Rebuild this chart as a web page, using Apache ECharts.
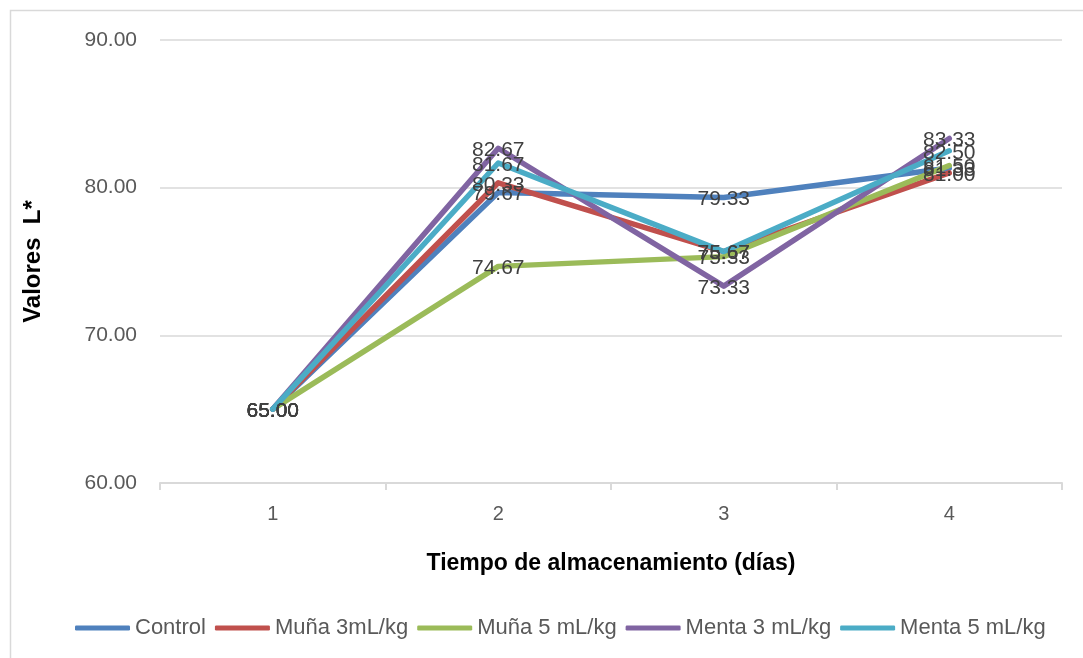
<!DOCTYPE html>
<html>
<head>
<meta charset="utf-8">
<script src="https://cdn.jsdelivr.net/npm/echarts@6/dist/echarts.min.js"></script>
<style>
html,body{margin:0;padding:0;background:#fff;}
#chart{width:1083px;height:658px;}
</style>
</head>
<body>
<div id="chart"></div>
<script>
const days = ['1', '2', '3', '4'];
const seriesNames = ['Control', 'Muña 3mL/kg', 'Muña 5 mL/kg', 'Menta 3 mL/kg', 'Menta 5 mL/kg'];
const control = [65.00, 79.67, 79.33, 81.33];
const muna3 = [65.00, 80.33, 75.67, 81.00];
const muna5 = [65.00, 74.67, 75.33, 81.50];
const menta3 = [65.00, 82.67, 73.33, 83.33];
const menta5 = [65.00, 81.67, 75.67, 82.50];
const colors = ['#4F81BD', '#C0504D', '#9BBB59', '#8064A2', '#4BACC6'];
const yTicks = { min: 60, max: 90, interval: 10 };

const allData = [control, muna3, muna5, menta3, menta5];
const font2 = '"Liberation Sans", sans-serif';

const chart = echarts.init(document.getElementById('chart'));
chart.setOption({
  animation: false,
  backgroundColor: '#fff',
  graphic: [{
    type: 'rect',
    shape: { x: 10.5, y: 10.5, width: 1100, height: 700 },
    style: { fill: 'none', stroke: '#d9d9d9', lineWidth: 1.5 },
    silent: true, z: -1
  }],
  grid: { left: 160, right: 21, top: 40, bottom: 175, containLabel: false },
  legend: {
    top: 612,
    left: 70,
    icon: 'roundRect',
    itemWidth: 55,
    itemHeight: 5,
    itemGap: 9,
    textStyle: { fontFamily: font2, fontSize: 22, color: '#595959' },
    data: seriesNames
  },
  xAxis: {
    type: 'category',
    data: days,
    boundaryGap: true,
    name: 'Tiempo de almacenamiento (días)',
    nameLocation: 'middle',
    nameGap: 69,
    nameTextStyle: { fontFamily: font2, fontWeight: 'bold', fontSize: 23, color: '#000' },
    axisLine: { lineStyle: { color: '#d9d9d9', width: 2 } },
    axisTick: { show: true, length: 7, lineStyle: { color: '#d9d9d9', width: 2 } },
    axisLabel: { fontFamily: font2, fontSize: 20, color: '#595959', margin: 21 }
  },
  yAxis: {
    type: 'value',
    min: yTicks.min,
    max: yTicks.max,
    interval: yTicks.interval,
    name: 'Valores  L*',
    nameLocation: 'middle',
    nameGap: 115,
    nameRotate: 90,
    nameTextStyle: { fontFamily: font2, fontWeight: 'bold', fontSize: 24, color: '#000' },
    axisLine: { show: false },
    axisTick: { show: false },
    splitLine: { lineStyle: { color: '#d9d9d9', width: 1.5 } },
    axisLabel: { fontFamily: font2, fontSize: 21, color: '#595959', margin: 23,
      formatter: v => v.toFixed(2) }
  },
  series: seriesNames.map((name, i) => ({
    name: name,
    type: 'line',
    data: allData[i],
    color: colors[i],
    symbol: 'circle',
    symbolSize: 0.5,
    showSymbol: true,
    lineStyle: { width: 5.5, color: colors[i], cap: 'round', join: 'round' },
    itemStyle: { color: colors[i] },
    label: {
      show: true,
      position: 'inside',
      offset: [0, 2],
      formatter: p => p.value.toFixed(2),
      fontFamily: font2,
      fontSize: 21,
      color: '#404040'
    },
    emphasis: { disabled: true }
  }))
});
</script>
</body>
</html>
